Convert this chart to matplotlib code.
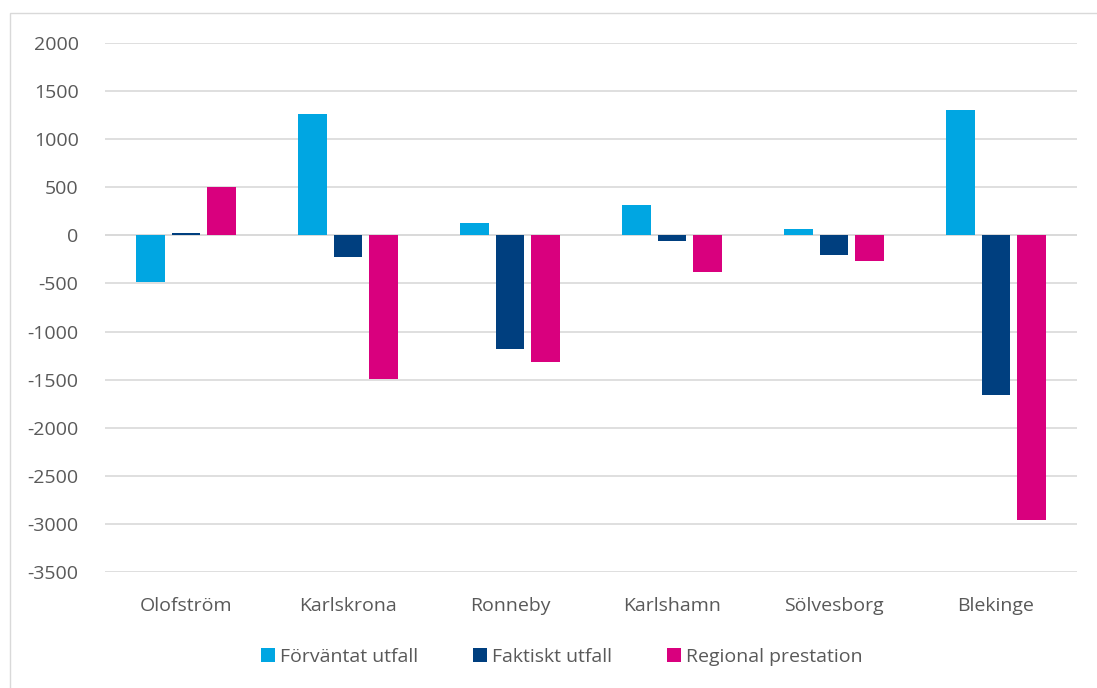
import matplotlib
matplotlib.use("Agg")
import matplotlib.pyplot as plt
import numpy as np
from matplotlib.patches import Rectangle

categories = ["Olofström", "Karlskrona", "Ronneby", "Karlshamn", "Sölvesborg", "Blekinge"]
series_names = ["Förväntat utfall", "Faktiskt utfall", "Regional prestation"]
forvantat = [-480, 1260, 125, 312, 62, 1302]
faktiskt = [20, -229, -1177, -62, -208, -1656]
regional = [500, -1490, -1312, -385, -270, -2958]
colors = ["#00A6E2", "#003F7F", "#D9007E"]
yticks = list(range(-3500, 2001, 500))

plt.rcParams['font.family'] = ['Open Sans', 'DejaVu Sans']

W, H = 1097, 688
fig = plt.figure(figsize=(W / 100, H / 100), dpi=100)
fig.patches.append(Rectangle((10 / W, -0.01), 1.1, 1 - 13 / H + 0.01, transform=fig.transFigure,
                             fill=False, edgecolor="#D9D9D9", linewidth=1))
ax = fig.add_axes([105 / W, 1 - 572 / H, (1077 - 105) / W, (572 - 43) / H])

x = np.arange(len(categories))
bw = 0.178
offs = [-0.22, 0.0, 0.22]
for data, c, o, name in zip([forvantat, faktiskt, regional], colors, offs, series_names):
    ax.bar(x + o, data, width=bw, color=c, label=name, zorder=3)

ax.set_xlim(-0.5, len(categories) - 0.5)
ax.set_ylim(-3500, 2000)
ax.set_yticks(yticks)
ax.set_yticklabels([str(v) for v in yticks])
ax.set_xticks(x)
ax.set_xticklabels(categories)
ax.grid(axis="y", color="#D9D9D9", linewidth=1.2, zorder=0)
ax.axhline(0, color="#D9D9D9", linewidth=1.2, zorder=1)
for s in ax.spines.values():
    s.set_visible(False)
ax.tick_params(axis="both", length=0, labelsize=14, colors="#595959")
ax.tick_params(axis="y", pad=19)
ax.tick_params(axis="x", pad=18)

leg = fig.legend(loc="center", bbox_to_anchor=(562 / W, 1 - 657 / H), ncol=3, frameon=False,
                 fontsize=14, handlelength=0.7, handleheight=0.7, handletextpad=0.3, columnspacing=2.8)
for t in leg.get_texts():
    t.set_color("#595959")

fig.savefig("out.png", dpi=100)
